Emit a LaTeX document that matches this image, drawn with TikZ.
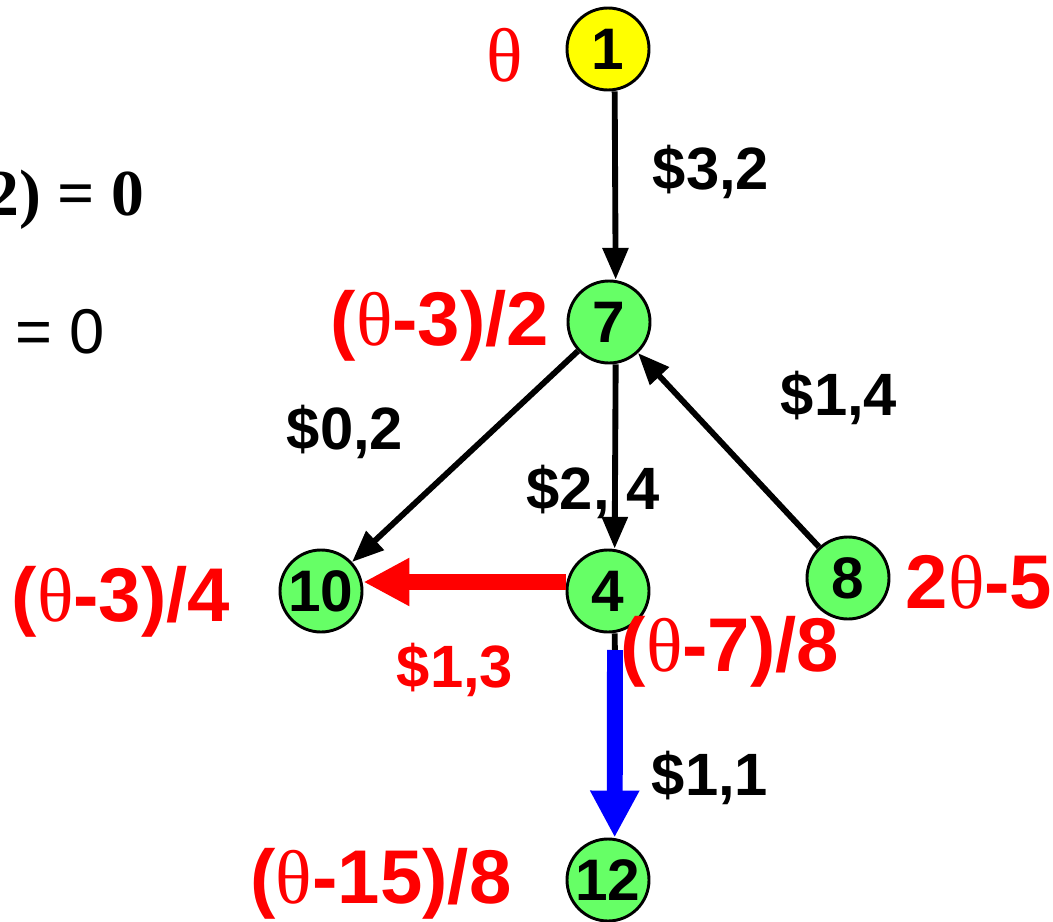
\documentclass[tikz,border=0pt]{standalone}
\usepackage{fontspec}
\setmainfont{Liberation Sans}
\newfontfamily\thfont{Liberation Serif}
\usetikzlibrary{arrows.meta,positioning}
\definecolor{nodeg}{RGB}{102,255,102}
\definecolor{nodey}{RGB}{255,255,0}
\definecolor{redc}{RGB}{255,0,0}
\definecolor{bluec}{RGB}{0,0,255}
\newcommand{\tht}{{\thfont\mdseries θ}}

\begin{document}
\begin{tikzpicture}[x=0.03cm,y=-0.03cm,
  vtx/.style={circle,draw,line width=2.5pt,fill=nodeg,minimum size=2.46cm,inner sep=0pt,font=\fontsize{50}{50}\selectfont\bfseries},
  cst/.style={font=\fontsize{51}{51}\selectfont\bfseries},
  pot/.style={font=\fontsize{65}{65}\selectfont\bfseries,text=redc},
  arc/.style={line width=5pt,-{Triangle[length=0.95cm,width=0.75cm]}}]
\useasboundingbox (0,0) rectangle (1053,922);
% --- nodes ---
\node[vtx,fill=nodey] (n1) at (608,49) {1};
\node[vtx] (n7) at (609,322) {7};
\node[vtx] (n10) at (321,591) {10};
\node[vtx] (n4) at (608,591) {4};
\node[vtx] (n8) at (848,578) {8};
\node[vtx] (n12) at (608,880) {12};
% --- arcs ---
\draw[arc] ([xshift=0.2cm]n1.south) -- ([xshift=0.2cm]n7.north);
\draw[arc] ([xshift=0.2cm]n7.south) -- ([xshift=0.2cm]n4.north);
\draw[arc] (n7) -- (n10);
\draw[arc] (n8) -- (n7);
\coordinate (bs) at (615,650);
\draw[line width=5pt] ([xshift=0.2cm]n4.south) -- ([yshift=-0.3cm]bs);
\draw[line width=13.6pt,bluec,-{Triangle[length=1.41cm,width=1.38cm]}] (bs) -- ([xshift=0.2cm]n12.north);
\draw[line width=14.5pt,redc,-{Triangle[length=1.38cm,width=1.35cm]}] ([yshift=0.27cm]n4.west) -- ([yshift=0.27cm]n10.east);
% --- costs and potentials ---
\node[pot] (p1) at (505,55) {\tht};
\node[cst] (c17) at (711,172) {\$3,2};
\node[pot] (p7) at (440,326) {(\tht-3)/2};
\node[cst] (c710) at (345,432) {\$0,2};
\node[cst] (c74) at (593,492) {\$2, 4};
\node[cst] (c87) at (839,398) {\$1,4};
\node[pot] (p10) at (121,602) {(\tht-3)/4};
\node[pot] (p8) at (979,582) {2\tht-5};
\node[cst,text=redc] (c410) at (455,670) {\$1,3};
\node[pot] (p4) at (730,652) {(\tht-7)/8};
\node[cst] (c412) at (710,778) {\$1,1};
\node[pot] (p12) at (381,884) {(\tht-15)/8};
% --- text cut at the left edge ---
\node[anchor=east,font=\fontsize{56}{56}\selectfont\thfont\bfseries] (l1) at (148,200) {2) = 0};
\node[anchor=east,font=\fontsize{54}{54}\selectfont] (l2) at (109,332) {= 0};
\end{tikzpicture}
\end{document}
